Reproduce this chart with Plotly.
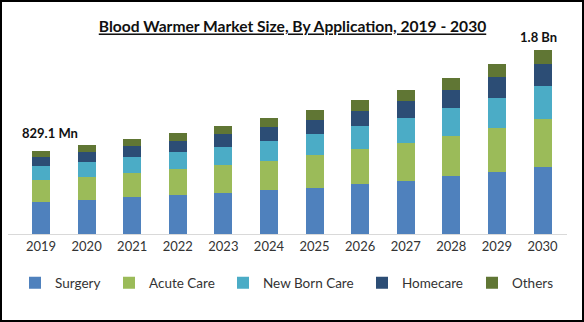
import plotly.graph_objects as go

years = ["2019", "2020", "2021", "2022", "2023", "2024", "2025", "2026", "2027", "2028", "2029", "2030"]
surgery = [323, 340, 370, 390, 410, 440, 460, 500, 530, 580, 620, 670]
acute_care = [217, 230, 240, 260, 280, 290, 330, 350, 380, 400, 440, 480]
new_born_care = [140, 150, 160, 170, 180, 200, 210, 230, 250, 280, 300, 330]
homecare = [90, 100, 110, 110, 130, 140, 140, 150, 170, 180, 210, 220]
others = [59, 70, 70, 80, 80, 90, 100, 110, 110, 120, 130, 140]
series_names = ["Surgery", "Acute Care", "New Born Care", "Homecare", "Others"]
series_values = [surgery, acute_care, new_born_care, homecare, others]
colors = ["#4F81BD", "#9BBB59", "#4BACC6", "#2C4D75", "#607634"]
start_label = "829.1 Mn"
end_label = "1.8 Bn"
title_text = "Blood Warmer Market Size, By Application, 2019 - 2030"

W, H = 584, 322
ml, mr, mt, mb = 8, 17, 40, 88
pw = W - ml - mr
ph = H - mt - mb

FONT = "Lato"

fig = go.Figure()
legend_text_x = [55, 149, 263, 402, 512]
legend_keys = ["legend", "legend2", "legend3", "legend4", "legend5"]
for i, (name, vals, col) in enumerate(zip(series_names, series_values, colors)):
    fig.add_trace(go.Bar(
        x=list(range(len(years))), y=vals, name=name,
        marker=dict(color=col, line=dict(width=0)),
        legend=legend_keys[i],
        hoverinfo="skip",
    ))

totals = [sum(v) for v in zip(*series_values)]

legend_cfg = {}
for i, key in enumerate(legend_keys):
    legend_cfg[key] = dict(
        x=(legend_text_x[i] - 40 - ml) / pw, xanchor="left",
        y=(H - mb - 283) / ph, yanchor="middle",
        orientation="h", bgcolor="rgba(0,0,0,0)", borderwidth=0,
        font=dict(family=FONT, size=13.5, color="#333333"),
    )

per_cat = 501.5 / 11
x0 = 0 - (41 - ml) / per_cat
x1 = 11 + (567 - 542.5) / per_cat

border = dict(type="rect", xref="paper", yref="paper",
              x0=(1 - ml) / pw, x1=(W - 1 - ml) / pw,
              y0=(H - mb - (H - 1)) / ph, y1=(H - mb - 1) / ph,
              line=dict(color="black", width=2), fillcolor="rgba(0,0,0,0)", layer="above")

fig.update_layout(
    width=W, height=H,
    margin=dict(l=ml, r=mr, t=mt, b=mb, pad=0),
    paper_bgcolor="white", plot_bgcolor="white",
    barmode="stack", bargap=0.605,
    showlegend=True,
    title=dict(text="<b><u>" + title_text + "</u></b>", x=292.5 / W, xref="container", xanchor="center",
               y=1 - 27 / H, yref="container", yanchor="middle",
               font=dict(family=FONT, size=15.6, color="#111111")),
    xaxis=dict(
        tickmode="array", tickvals=list(range(len(years))), ticktext=years,
        range=[x0, x1], showgrid=False, zeroline=False,
        showline=True, linecolor="#D9D9D9", linewidth=1,
        ticks="", tickfont=dict(family=FONT, size=13, color="#333333"),
    ),
    yaxis=dict(range=[0, ph * 10], visible=False, showgrid=False, zeroline=False),
    annotations=[
        dict(x=0, y=totals[0], xref="x", yref="y", text="<b>" + start_label + "</b>",
             showarrow=False, yanchor="bottom", xanchor="center", xshift=9, yshift=8,
             font=dict(family=FONT, size=13, color="#111111")),
        dict(x=len(years) - 1, y=totals[-1], xref="x", yref="y", text="<b>" + end_label + "</b>",
             showarrow=False, yanchor="bottom", xanchor="center", xshift=-4, yshift=3,
             font=dict(family=FONT, size=13, color="#111111")),
    ],
    shapes=[border],
    **legend_cfg,
)

fig.write_html("out.html")
